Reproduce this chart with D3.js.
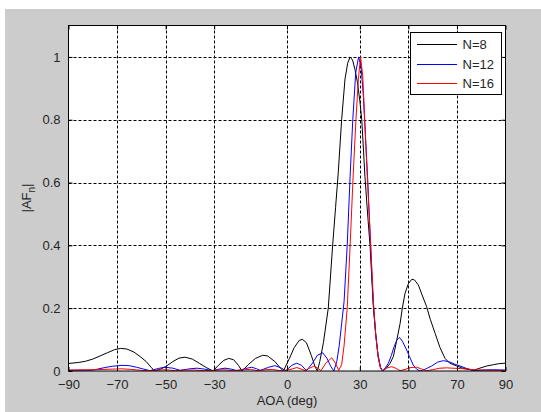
<!DOCTYPE html>
<html><head><meta charset="utf-8">
<script src="https://cdn.jsdelivr.net/npm/d3@7"></script>
<style>
html,body{margin:0;padding:0;background:#fff;}
svg{display:block;}
text{font-family:"Liberation Sans",Arial,sans-serif;fill:#262626;}
</style></head><body>
<svg id="c" width="541" height="412"></svg>
<script>
// ---- data ----
const xTicks = [-90, -70, -50, -30, 0, 30, 50, 70, 90];
const yTicks = [0, 0.2, 0.4, 0.6, 0.8, 1];
const yTickLabels = ["0", "0.2", "0.4", "0.6", "0.8", "1"];
const seriesNames = ["N=8", "N=12", "N=16"];
const seriesColors = ["#000000", "#0000ff", "#ff0000"];

// [AOA deg, |AF|]
const n8 = [
 [-90,0.024],[-86,0.027],[-83,0.031],[-80,0.038],[-77,0.048],[-74,0.058],[-71,0.068],[-68.5,0.072],
 [-66,0.070],[-63,0.060],[-60.5,0.046],[-58,0.030],[-56,0.012],[-54.5,0.0],[-52,0.006],[-50,0.014],
 [-47,0.030],[-44.5,0.041],[-42,0.044],[-39,0.038],[-36,0.024],[-33,0.010],[-30.5,0.0],[-28,0.020],
 [-26,0.034],[-24,0.040],[-22,0.036],[-20,0.018],[-18.5,0.0],[-16,0.020],[-13,0.040],[-10,0.050],
 [-8,0.048],[-5,0.030],[-3,0.012],[-1.5,0.0],[1,0.040],[3,0.075],[5,0.097],[6.3,0.101],[8,0.090],
 [10,0.050],[11.5,0.015],[12.5,0.0],[13.5,0.030],[15,0.090],[17,0.200],[18.8,0.400],[20,0.520],
 [21.1,0.630],[22.5,0.800],[23.9,0.930],[25,0.980],[26,1.0],[27,0.99],[28,0.96],[29,0.92],[30,0.86],
 [30.8,0.80],[32.1,0.62],[33.2,0.50],[34.2,0.40],[35.6,0.20],[36.5,0.12],[37.5,0.05],[38.5,0.010],
 [39.4,0.0],[41,0.010],[42.5,0.025],[43.8,0.046],[45,0.090],[46.6,0.152],[47.5,0.200],[48.6,0.247],
 [50,0.278],[51.4,0.292],[52.5,0.290],[54.1,0.274],[55.5,0.245],[57.5,0.205],[59,0.165],[61,0.120],
 [63,0.075],[65.1,0.040],[67,0.025],[69.9,0.016],[72,0.010],[74,0.006],[76.7,0.002],[79,0.008],
 [82.3,0.016],[85,0.020],[87,0.023],[90,0.025]
];
const n12 = [
 [-90,0.002],[-80,0.003],[-78,0.006],[-75,0.011],[-72,0.015],[-68,0.018],[-65,0.017],[-62,0.012],
 [-59,0.006],[-56.5,0.001],[-53,0.008],[-50.5,0.012],[-47,0.009],[-44,0.002],[-40,0.007],[-37,0.009],
 [-34,0.006],[-30.5,0.001],[-28,0.006],[-25.5,0.009],[-23,0.006],[-20.5,0.001],[-17,0.008],[-14.5,0.012],
 [-12.5,0.007],[-11,0.002],[-7.5,0.012],[-5,0.017],[-2.5,0.010],[-0.5,0.001],[2,0.018],[4,0.025],
 [6,0.018],[8,0.001],[10.5,0.025],[12.5,0.050],[14.7,0.058],[16.5,0.040],[18,0.015],[19.3,0.0],
 [20.5,0.030],[21.5,0.080],[22.5,0.150],[23.5,0.220],[24.8,0.400],[26,0.620],[27.1,0.800],[28.3,0.950],
 [29.5,1.0],[30.5,0.970],[31.5,0.870],[32.3,0.750],[33.3,0.600],[34.3,0.420],[35.5,0.220],[36.5,0.120],
 [37.5,0.050],[38.5,0.012],[39.4,0.0],[40.5,0.010],[41.7,0.024],[43,0.050],[44,0.075],[45.2,0.098],
 [46.3,0.107],[47.5,0.095],[49.3,0.067],[50.5,0.045],[52,0.019],[53.5,0.005],[54.8,0.0],[57,0.006],
 [59.6,0.016],[62,0.028],[64.4,0.033],[67,0.029],[69,0.022],[71.3,0.016],[74,0.008],[77.5,0.001],
 [80,0.003],[85,0.004],[90,0.003]
];
const n16 = [
 [-90,0.003],[-80,0.004],[-72,0.006],[-68,0.007],[-64,0.005],[-60,0.002],[-57,0.001],[-53,0.003],
 [-50,0.004],[-46,0.001],[-42,0.003],[-38,0.003],[-34,0.001],[-30,0.002],[-26,0.004],[-22,0.001],
 [-18,0.004],[-15,0.005],[-12,0.001],[-9,0.004],[-6,0.005],[-3,0.001],[0,0.003],[2,0.006],[4,0.011],
 [6,0.006],[7.5,0.001],[9,0.008],[11,0.015],[12.5,0.010],[14,0.001],[16,0.025],[18.4,0.042],[20,0.025],
 [21.3,0.002],[22.5,0.020],[23.5,0.080],[24.8,0.200],[26,0.400],[27.3,0.630],[28.4,0.800],[29.4,0.930],
 [30.3,1.0],[31.2,0.940],[32,0.800],[33,0.630],[34.3,0.430],[35.6,0.220],[36.6,0.110],[37.6,0.040],
 [38.6,0.008],[39.4,0.0],[41,0.009],[43.1,0.014],[45,0.008],[46.6,0.001],[49,0.006],[51,0.011],
 [53.4,0.012],[55.5,0.006],[57.5,0.001],[60,0.004],[63,0.009],[65.8,0.010],[68,0.009],[71.3,0.008],
 [74,0.006],[77,0.004],[80,0.003],[85,0.002],[90,0.002]
];
const seriesData = [n8, n12, n16];

// ---- layout ----
const svg = d3.select("#c");
const L = 68.5, T = 25.5, R = 505.5, B = 371;
svg.append("rect").attr("x",5).attr("y",9).attr("width",541).attr("height",412).attr("fill","#cccccc");
svg.append("rect").attr("x",L).attr("y",T).attr("width",R-L).attr("height",B-T).attr("fill","#fff");

const x = d3.scaleLinear().domain([-90,90]).range([L,R]);
const y = d3.scaleLinear().domain([0,1.1]).range([B,T]);

// grid
const g = svg.append("g");
xTicks.slice(1,-1).forEach(t=>{
  g.append("line").attr("x1",Math.round(x(t))+0.5).attr("x2",Math.round(x(t))+0.5).attr("y1",T).attr("y2",B)
   .attr("stroke","#000").attr("stroke-width",1).attr("stroke-dasharray","3,2");
});
yTicks.slice(1).forEach(t=>{
  g.append("line").attr("y1",Math.round(y(t))+0.5).attr("y2",Math.round(y(t))+0.5).attr("x1",L).attr("x2",R)
   .attr("stroke","#000").attr("stroke-width",1).attr("stroke-dasharray","3,2");
});

// curves
const line = d3.line().x(d=>x(d[0])).y(d=>y(d[1]));
svg.append("clipPath").attr("id","pc").append("rect").attr("x",L).attr("y",T).attr("width",R-L).attr("height",B-T);
seriesData.forEach((s,i)=>{
  svg.append("path").datum(s).attr("d",line).attr("fill","none")
    .attr("stroke",seriesColors[i]).attr("stroke-width",1).attr("clip-path","url(#pc)");
});

// frame + ticks
const axB = d3.axisBottom(x).tickValues(xTicks).tickSize(-4).tickPadding(9).tickFormat(d3.format("d"));
const axL = d3.axisLeft(y).tickValues(yTicks).tickSize(-4).tickPadding(8).tickFormat((d,i)=>yTickLabels[i]);
const axT = d3.axisTop(x).tickValues(xTicks).tickSize(-4).tickFormat("");
const axR = d3.axisRight(y).tickValues(yTicks).tickSize(-4).tickFormat("");
function style(sel){ sel.select(".domain").remove(); sel.selectAll("line").attr("stroke","#000");
  sel.selectAll("text").attr("font-size","13px").attr("fill","#262626").attr("font-family","'Liberation Sans',Arial,sans-serif"); }
svg.append("g").attr("transform",`translate(0,${B})`).call(axB).call(style);
svg.append("g").attr("transform",`translate(${L},0)`).call(axL).call(style);
svg.append("g").attr("transform",`translate(0,${T})`).call(axT).call(style);
svg.append("g").attr("transform",`translate(${R},0)`).call(axR).call(style);
svg.append("rect").attr("x",L).attr("y",T).attr("width",R-L).attr("height",B-T).attr("fill","none").attr("stroke","#000").attr("stroke-width",1);

// axis labels
svg.append("text").attr("x",(L+R)/2).attr("y",405).attr("text-anchor","middle").attr("font-size","13px").text("AOA (deg)");
const yl = svg.append("text").attr("transform",`translate(31,198) rotate(-90)`).attr("text-anchor","middle").attr("font-size","13px");
yl.append("tspan").text("|AF");
yl.append("tspan").attr("font-size","10px").attr("dy",4).text("n");
yl.append("tspan").attr("dy",-4).text("|");

// legend
const lg = svg.append("g");
lg.append("rect").attr("x",410.5).attr("y",32.5).attr("width",91).attr("height",62).attr("fill","#fff").attr("stroke","#000");
const rows = [44.5, 64.5, 83.5];
seriesNames.forEach((n,i)=>{
  lg.append("path").attr("d",`M417,${rows[i]}H457`).attr("fill","none").attr("stroke",seriesColors[i]).attr("stroke-width",1);
  lg.append("text").attr("x",462.5).attr("y",rows[i]).attr("dy","0.36em").attr("font-size","13px").text(n);
});
</script></body></html>
